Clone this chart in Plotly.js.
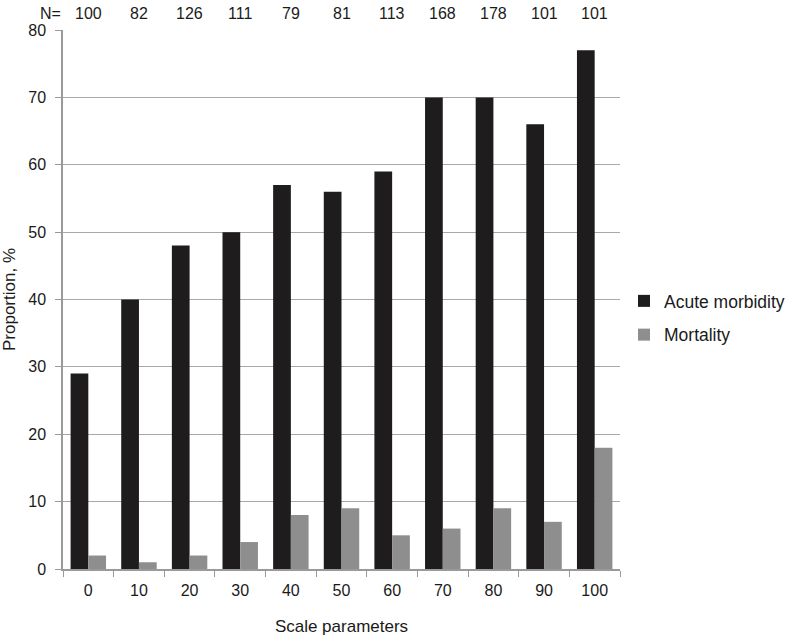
<!DOCTYPE html>
<html>
<head>
<meta charset="utf-8">
<script src="https://cdn.plot.ly/plotly-3.0.1.min.js"></script>
<style>
  body { margin: 0; background: #fff; }
  #graph { width: 800px; height: 636px; }
</style>
</head>
<body>
<div id="graph"></div>
<script>
const categories = ['0', '10', '20', '30', '40', '50', '60', '70', '80', '90', '100']
const acuteMorbidity = [29, 40, 48, 50, 57, 56, 59, 70, 70, 66, 77]
const mortality = [2, 1, 2, 4, 8, 9, 5, 6, 9, 7, 18]
const nCounts = [100, 82, 126, 111, 79, 81, 113, 168, 178, 101, 101]

const textFont = { family: 'Liberation Sans, Arial, sans-serif', size: 16, color: '#1a1a1a' }

const graphData = [
    {
        x: categories,
        y: acuteMorbidity,
        name: 'Acute morbidity',
        legendgroup: 'a',
        type: 'bar',
        marker: { color: '#1e1c1c' },
    },
    {
        x: categories,
        y: mortality,
        name: 'Mortality',
        legendgroup: 'm',
        type: 'bar',
        marker: { color: '#8e8e8e' },
    }
]

// N= row above the plot, placed by category index
const annotations = nCounts.map((n, i) => ({
    x: i,
    y: 1,
    xref: 'x',
    yref: 'paper',
    yanchor: 'bottom',
    yshift: 6,
    text: String(n),
    showarrow: false,
    font: textFont,
}))
annotations.push({
    x: -0.045,
    y: 1,
    xref: 'paper',
    yref: 'paper',
    yanchor: 'bottom',
    yshift: 6,
    text: 'N=',
    showarrow: false,
    font: textFont,
})

const layout = {
    width: 800,
    height: 636,
    margin: { l: 63, r: 180, t: 30, b: 67 },
    paper_bgcolor: '#fff',
    plot_bgcolor: '#fff',
    font: textFont,
    barmode: 'group',
    bargap: 0.3,
    bargroupgap: 0,
    showlegend: true,
    legend: {
        xref: 'container',
        yref: 'container',
        x: 0.78,
        y: 0.5,
        xanchor: 'left',
        yanchor: 'middle',
        font: { family: textFont.family, size: 17.5, color: '#1a1a1a' },
        itemwidth: 30,
        tracegroupgap: 8,
    },
    xaxis: {
        type: 'category',
        range: [-0.5, categories.length - 0.5],
        title: { text: 'Scale parameters', font: { size: 17 }, standoff: 22 },
        showline: true,
        linecolor: '#9a9a9a',
        linewidth: 1.5,
        ticks: 'outside',
        ticklen: 6,
        tickcolor: '#9a9a9a',
        ticklabelstandoff: 6,
        tickson: 'boundaries',
        tickangle: 0,
        showgrid: false,
    },
    yaxis: {
        range: [0, 80],
        dtick: 10,
        title: { text: 'Proportion, %', font: { size: 17 }, standoff: 8 },
        showline: true,
        linecolor: '#9a9a9a',
        linewidth: 1.5,
        ticks: 'outside',
        ticklen: 6,
        tickcolor: '#9a9a9a',
        ticklabelstandoff: 6,
        gridcolor: '#a8a8a8',
        gridwidth: 1.2,
        zeroline: false,
    },
    annotations: annotations,
}

Plotly.newPlot('graph', graphData, layout, { displayModeBar: false })
</script>
</body>
</html>
